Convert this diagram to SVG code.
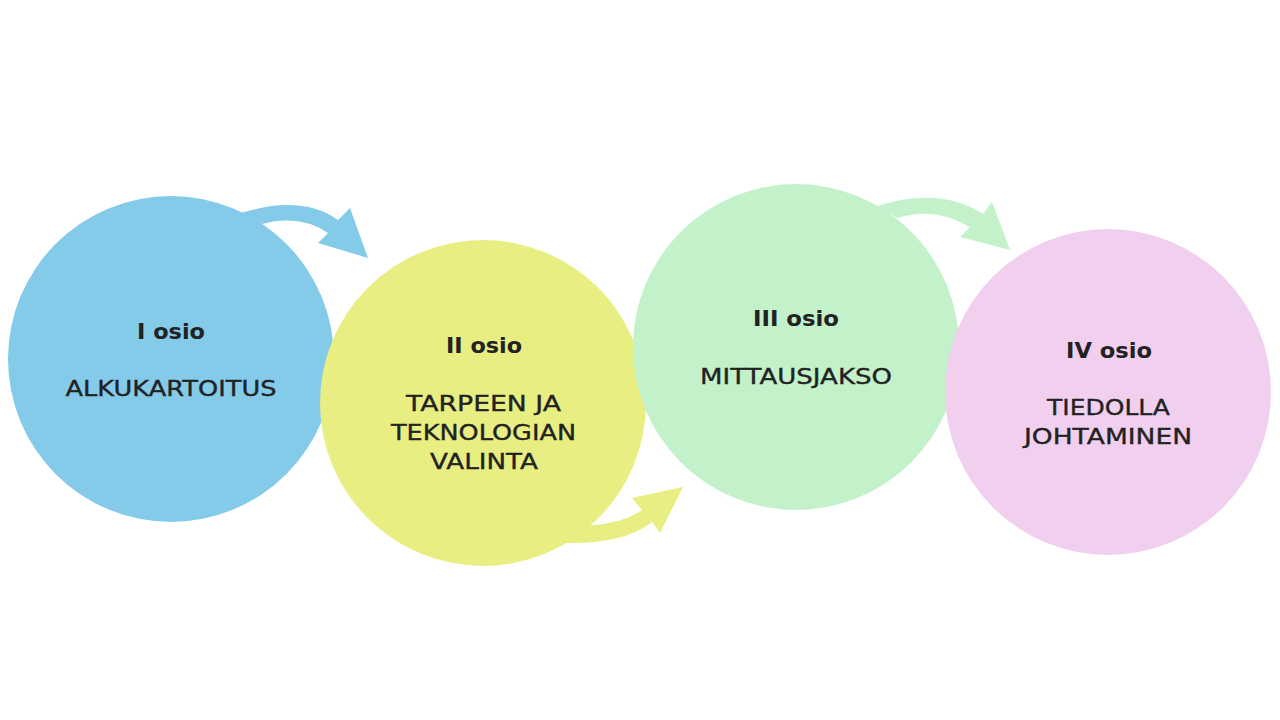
<svg xmlns="http://www.w3.org/2000/svg" width="1280" height="720" viewBox="0 0 1280 720">
<style>
.t{font-family:"DejaVu Sans","Open Sans",sans-serif;font-weight:700;font-size:22px;fill:#222222;text-anchor:middle}
.b{font-family:"DejaVu Sans","Open Sans",sans-serif;font-weight:400;font-size:21px;fill:#222222;stroke:#222222;stroke-width:0.35;text-anchor:middle}
</style>
<rect width="1280" height="720" fill="#ffffff"/>
<g id="node1">
<circle cx="171" cy="359" r="163" fill="#84CBEA"/>
<text class="t" x="171" y="339" textLength="68" lengthAdjust="spacingAndGlyphs">I osio</text>
<text class="b" x="171" y="396" textLength="211" lengthAdjust="spacingAndGlyphs">ALKUKARTOITUS</text>
</g>
<g id="node2">
<circle cx="483" cy="403" r="163" fill="#E9EE82"/>
<text class="t" x="484" y="353" textLength="76" lengthAdjust="spacingAndGlyphs">II osio</text>
<text class="b" x="483.5" y="411" textLength="155" lengthAdjust="spacingAndGlyphs">TARPEEN JA</text>
<text class="b" x="483.5" y="440" textLength="185" lengthAdjust="spacingAndGlyphs">TEKNOLOGIAN</text>
<text class="b" x="484" y="469" textLength="108" lengthAdjust="spacingAndGlyphs">VALINTA</text>
</g>
<g id="node3">
<circle cx="796" cy="347" r="163" fill="#C2F1CA"/>
<text class="t" x="796" y="326" textLength="86" lengthAdjust="spacingAndGlyphs">III osio</text>
<text class="b" x="796" y="384" textLength="192" lengthAdjust="spacingAndGlyphs">MITTAUSJAKSO</text>
</g>
<g id="node4">
<circle cx="1108" cy="392" r="163" fill="#F1CFEE"/>
<text class="t" x="1109" y="358" textLength="86" lengthAdjust="spacingAndGlyphs">IV osio</text>
<text class="b" x="1108.5" y="415" textLength="123" lengthAdjust="spacingAndGlyphs">TIEDOLLA</text>
<text class="b" x="1108" y="444" textLength="168" lengthAdjust="spacingAndGlyphs">JOHTAMINEN</text>
</g>
<g id="connectors">
<path d="M 235,215 Q 300,193 338,220 L 350,208 L 368,258 L 318,243 L 328,233 Q 300,214 262,224 Z" fill="#84CBEA"/>
<path d="M 585,526 Q 625,523 642,510 L 632,498 L 683,487 L 660,533 L 652,522 Q 625,544 565,543 L 560,530 Z" fill="#E9EE82"/>
<path d="M 877,206 Q 940,186 983,214 L 992,202 L 1010,250 L 960,237 L 970,227 Q 935,206 897,218 Z" fill="#C2F1CA"/>
</g>
</svg>
